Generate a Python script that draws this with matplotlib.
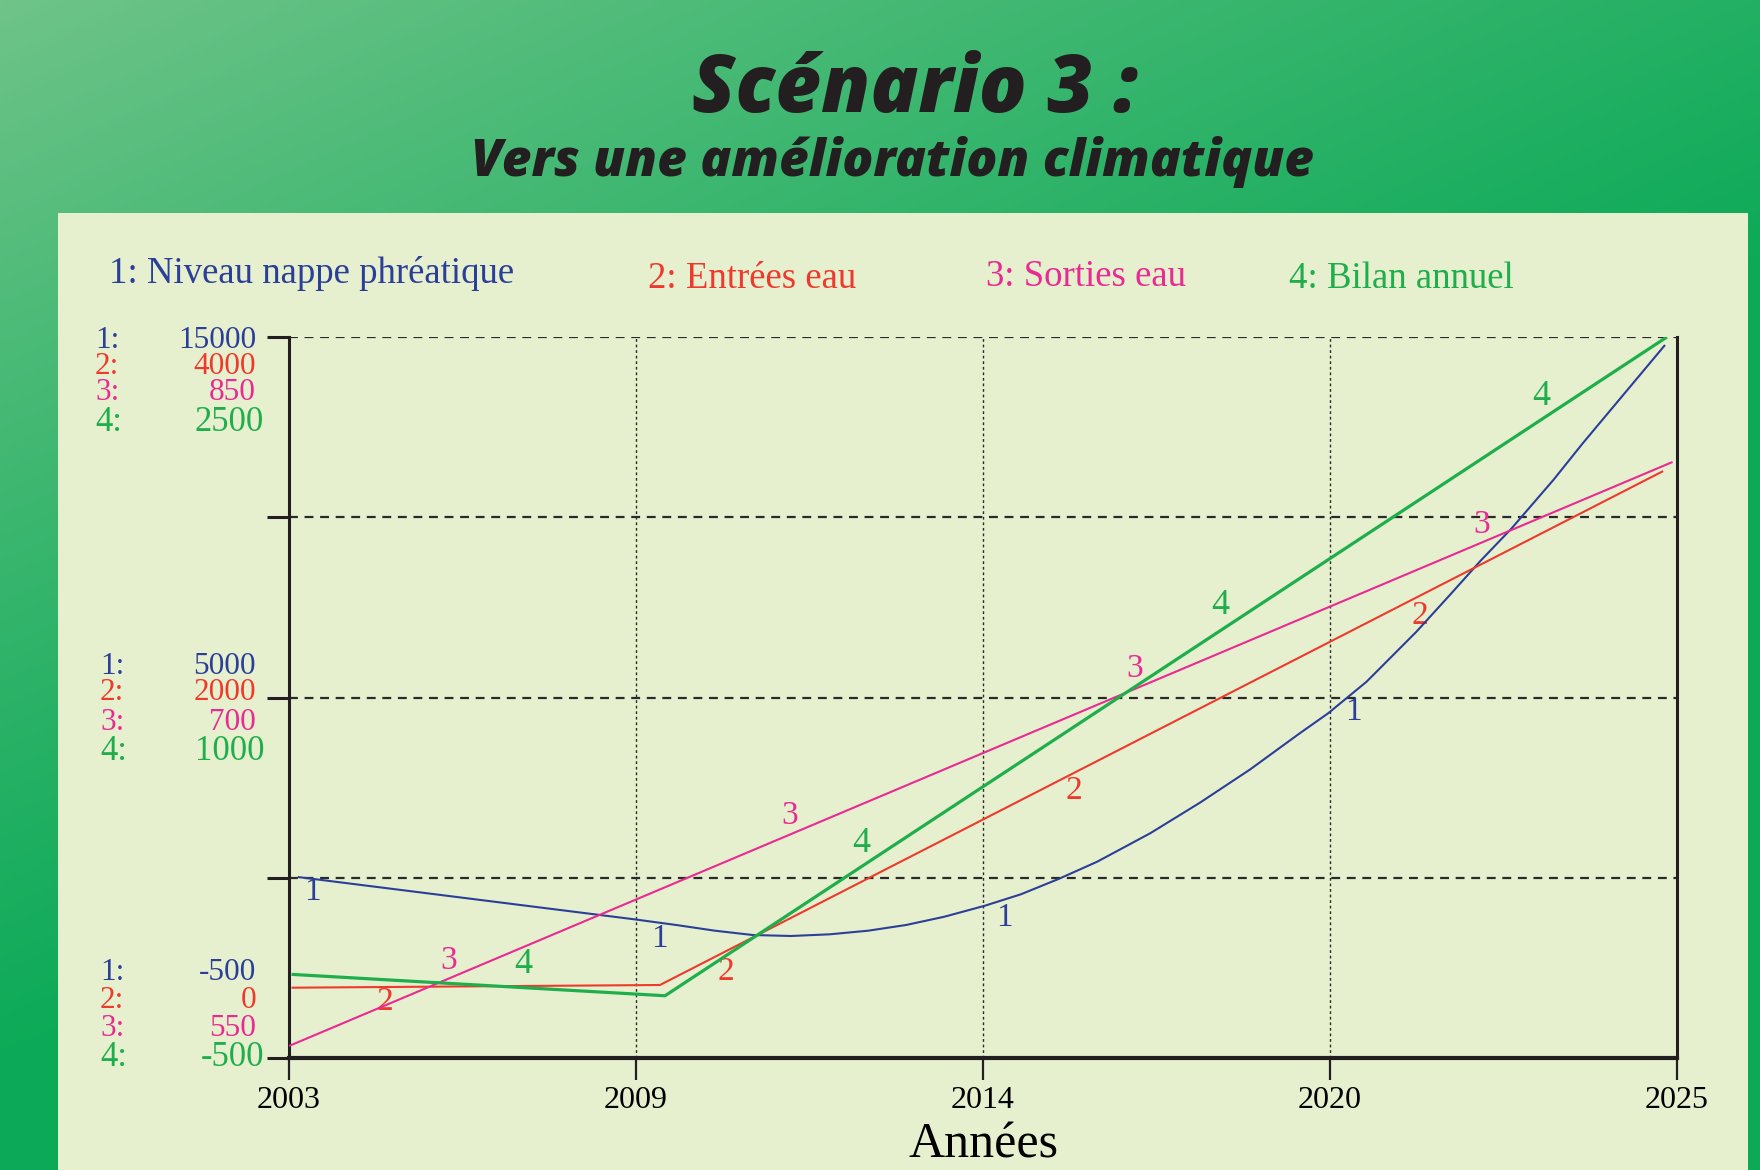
import numpy as np
import matplotlib
matplotlib.use("Agg")
import matplotlib.pyplot as plt
from matplotlib.patches import Rectangle

# ---- data -------------------------------------------------------------
years_niveau = [2003.14, 2007.93, 2008.47, 2009.14, 2009.75, 2010.35, 2010.96,
                2011.57, 2012.18, 2012.78, 2013.39, 2014.03, 2014.60, 2015.20,
                2015.81, 2016.65, 2017.44, 2018.23, 2019.02, 2019.47, 2020.08,
                2020.87, 2021.40, 2021.88, 2022.38, 2023.04, 2023.51, 2024.81]
niveau = [3391, 2574, 2482, 2359, 2237, 2144, 2123,
          2159, 2237, 2359, 2538, 2774, 3019, 3350,
          3720, 4331, 4990, 5700, 6480, 6910, 7590,
          8665, 9454, 10180, 10888, 11926, 12721, 14828]

years_entrees = [2003.04, 2008.88, 2024.78]
entrees = [390, 405, 3256]

years_sorties = [2003.0, 2024.93]
sorties = [555, 798]

years_bilan = [2003.04, 2008.96, 2024.84]
bilan = [-152, -241, 2500]

series_names = ["1: Niveau nappe phréatique", "2: Entrées eau",
                "3: Sorties eau", "4: Bilan annuel"]
axis_top = ["15000", "4000", "850", "2500"]
axis_mid = ["5000", "2000", "700", "1000"]
axis_bottom = ["-500", "0", "550", "-500"]
year_ticks = ["2003", "2009", "2014", "2020", "2025"]

colors = ["#2c3f98", "#ee3a2d", "#ea2a92", "#1fae4b"]
widths = [1.5, 1.5, 1.5, 2.3]

W, H = 1760, 1170


def fx(x):
    return x / W


def fy(y):
    return 1 - y / H


plt.rcParams["font.family"] = ["Liberation Serif", "DejaVu Serif"]

fig = plt.figure(figsize=(W / 100, H / 100), dpi=100)

# gradient background + pale panel
bg = fig.add_axes([0, 0, 1, 1])
bg.set_zorder(-10)
gx, gy = np.meshgrid(np.linspace(0, 1, 400), np.linspace(0, 1, 270))
t = np.clip(0.75 * gx + 1.1 * gy, 0, 1) ** 0.9
light = np.array([112, 196, 138]) / 255
dark = np.array([12, 170, 88]) / 255
img = light[None, None, :] * (1 - t[..., None]) + dark[None, None, :] * t[..., None]
bg.imshow(img, aspect="auto", extent=[0, 1, 0, 1], origin="upper")
bg.add_patch(Rectangle((fx(58), 0), fx(1748 - 58), 1 - 213 / H,
                       transform=bg.transAxes, facecolor="#e6f0cf",
                       edgecolor="none", zorder=3))
bg.set_xlim(0, 1)
bg.set_ylim(0, 1)
bg.set_axis_off()

# titles
fig.text(fx(915), fy(91), "Scénario 3 :", family="Open Sans", weight=800,
         style="italic", fontsize=57, color="#231f20", ha="center", va="center")
fig.text(fx(892), fy(162), "Vers une amélioration climatique", family="Open Sans",
         weight=800, style="italic", fontsize=37, color="#231f20",
         ha="center", va="center")

# main axes (normalised 0..1 vertically)
ax = fig.add_axes([fx(289), fy(1058), fx(1677 - 289), (1058 - 337) / H])
ax.patch.set_visible(False)
ax.set_xlim(2003, 2025)
ax.set_ylim(0, 1)

xt = np.linspace(2003, 2025, 5)
ax.set_xticks(xt)
ax.set_xticklabels(year_ticks, fontsize=23)
ax.set_yticks([0, 0.25, 0.5, 0.75, 1.0])
ax.set_yticklabels([])
ax.tick_params(axis="both", direction="out", length=16, width=1.6, color="#231f20", pad=4)
ax.tick_params(axis="y", width=2.2)

for y in [0.25, 0.5, 0.75, 1.0]:
    ax.axhline(y, color="#2a2a2a", lw=1.6, ls=(0, (4, 3)), zorder=1)
for x in xt[1:4]:
    ax.axvline(x, color="#2a2a2a", lw=1.0, ls=(0, (2, 2)), zorder=1)

ax.spines["top"].set_visible(False)
ax.spines["left"].set_linewidth(2.2)
ax.spines["right"].set_linewidth(2.2)
ax.spines["bottom"].set_linewidth(3.0)
for s in ax.spines.values():
    s.set_color("#231f20")

ax.set_xlabel("Années", fontsize=36, labelpad=5)

# each series on its own scale
xs = [years_niveau, years_entrees, years_sorties, years_bilan]
ys = [niveau, entrees, sorties, bilan]
for i in range(4):
    tw = ax.twinx()
    tw.patch.set_visible(False)
    tw.set_ylim(float(axis_bottom[i]), float(axis_top[i]))
    tw.set_xlim(2003, 2025)
    tw.set_axis_off()
    tw.plot(xs[i], ys[i], color=colors[i], lw=widths[i], solid_capstyle="butt",
            solid_joinstyle="round")

# number tags along curves (axes fraction)
tags = [
    [(.0166, .230), (.267, .166), (.5155, .194), (.767, .480)],
    [(.069, .078), (.315, .119), (.5656, .370), (.815, .614)],
    [(.115, .1345), (.361, .336), (.609, .5395), (.859, .739)],
    [(.169, .129), (.412, .297), (.671, .627), (.902, .917)],
]
for i in range(4):
    for (tx, ty) in tags[i]:
        ax.text(tx, ty, str(i + 1), transform=ax.transAxes, color=colors[i],
                fontsize=26 if i == 3 else 24, ha="center", va="center", zorder=5)

# legend line across the top
leg_x = [109, 648, 986, 1289]
leg_y = [273, 279, 277, 279]
for i in range(4):
    fig.text(fx(leg_x[i]), fy(leg_y[i]), series_names[i], color=colors[i],
             fontsize=26.5, ha="left", va="center")

# scale labels on the left
groups = [
    (axis_top, [340, 367, 393, 422], 95),
    (axis_mid, [667, 693, 722, 752], 100),
    (axis_bottom, [972, 1000, 1028, 1057], 100),
]
for labels, ypos, xleft in groups:
    for i in range(4):
        big = i == 3
        fs = 25 if big else 22.5
        fig.text(fx(xleft), fy(ypos[i]), f"{i + 1}:", color=colors[i],
                 fontsize=fs, ha="left", va="center")
        fig.text(fx(264 if big else 256), fy(ypos[i]), labels[i], color=colors[i],
                 fontsize=fs, ha="right", va="center")

fig.savefig("out.png", dpi=100)
